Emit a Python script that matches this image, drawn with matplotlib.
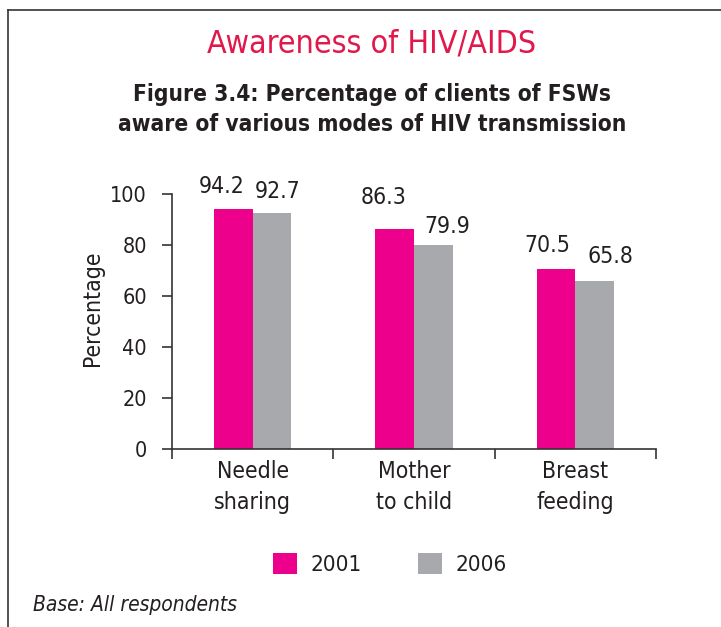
import matplotlib
matplotlib.use("Agg")
import matplotlib.pyplot as plt
import numpy as np
from matplotlib.lines import Line2D
from matplotlib.patches import Patch

categories = ["Needle\nsharing", "Mother\nto child", "Breast\nfeeding"]
years = ["2001", "2006"]
values_2001 = [94.2, 86.3, 70.5]
values_2006 = [92.7, 79.9, 65.8]
yticks = [0, 20, 40, 60, 80, 100]

# label offsets (pixels) relative to the top centre of each bar
label_dx = {"2001": [-12, -11, -9], "2006": [6, 14, 16]}
label_dy = {"2001": [16, 25, 17], "2006": [15, 12, 18]}

PINK = "#EC008C"
GRAY = "#A7A9AC"
TXT = "#231F20"

plt.rcParams['font.family'] = ['DejaVu Sans']
plt.rcParams['font.stretch'] = 'condensed'

fig = plt.figure(figsize=(7.21, 6.27), dpi=100)
W, H = 721, 627
ax = fig.add_axes([172 / W, 1 - 449 / H, (656 - 172) / W, (449 - 194) / H])

x = np.arange(len(categories))
bw = 0.24
b1 = ax.bar(x - bw / 2, values_2001, bw, color=PINK, label=years[0])
b2 = ax.bar(x + bw / 2, values_2006, bw, color=GRAY, label=years[1])

for bars, vals, yr in ((b1, values_2001, "2001"), (b2, values_2006, "2006")):
    for i, (r, v) in enumerate(zip(bars, vals)):
        ax.annotate(f"{v:.1f}", (r.get_x() + r.get_width() / 2, v),
                    xytext=(label_dx[yr][i], label_dy[yr][i]), textcoords="offset pixels",
                    ha="center", va="baseline", fontsize=16.5, color=TXT)

ax.set_xlim(-0.5, len(categories) - 0.5)
ax.set_ylim(0, 100)
ax.set_yticks(yticks)
ax.set_yticklabels([str(t) for t in yticks], fontsize=15.5, color=TXT)
ax.set_xticks(x)
ax.set_xticklabels(categories, fontsize=16.5, color=TXT, linespacing=1.45)
ax.tick_params(axis='x', length=0, pad=8)
ax.set_xticks(np.arange(-0.5, len(categories)), minor=True)
ax.tick_params(axis='x', which='minor', length=7, direction='out', color='#333333', width=1.2)
ax.tick_params(axis='y', length=7, direction='out', color='#333333', width=1.2, pad=11)
for s in ('top', 'right'):
    ax.spines[s].set_visible(False)
for s in ('left', 'bottom'):
    ax.spines[s].set_color('#333333')
    ax.spines[s].set_linewidth(1.2)

fig.text(92 / W, 1 - 308 / H, "Percentage", rotation=90, ha="center", va="center",
         fontsize=16.5, color=TXT)

fig.text(372 / W, 1 - 52 / H, "Awareness of HIV/AIDS", ha="center", va="baseline",
         fontsize=23, color="#E0184C")
fig.text(372 / W, 1 - 101 / H, "Figure 3.4: Percentage of clients of FSWs",
         ha="center", va="baseline", fontsize=16.3, fontweight="bold", color=TXT)
fig.text(372 / W, 1 - 131 / H, "aware of various modes of HIV transmission",
         ha="center", va="baseline", fontsize=16.3, fontweight="bold", color=TXT)

handles = [Patch(facecolor=PINK), Patch(facecolor=GRAY)]
fig.legend(handles, years, loc="center", bbox_to_anchor=(390 / W, 1 - 564 / H), ncol=2,
           frameon=False, fontsize=16, handlelength=1.08, handleheight=1.08,
           columnspacing=2.5, handletextpad=0.63, labelcolor=TXT)

fig.text(33 / W, 1 - 605 / H, "Base: All respondents", ha="left", va="center",
         fontsize=15, style="italic", color=TXT)

fig.add_artist(Line2D([8 / W, 8 / W], [0, 1 - 10 / H], transform=fig.transFigure, color="#333333", lw=1.2))
fig.add_artist(Line2D([8 / W, 1], [1 - 10 / H, 1 - 10 / H], transform=fig.transFigure, color="#333333", lw=1.2))

fig.savefig("out.png", dpi=100)
